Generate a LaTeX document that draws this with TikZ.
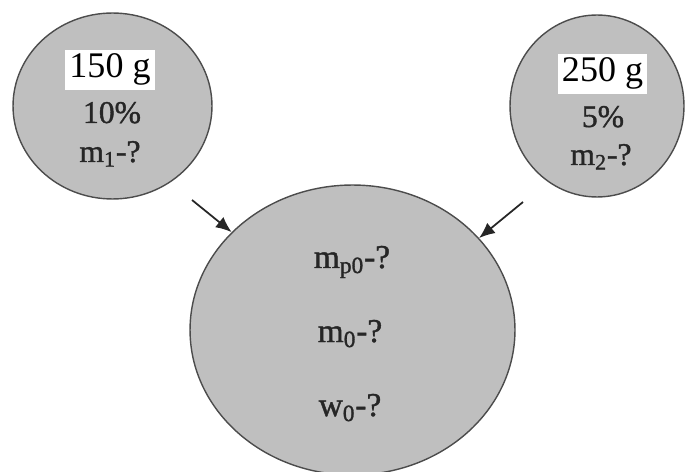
\documentclass[tikz,border=0pt]{standalone}
\usepackage{fontspec}
\setmainfont{Liberation Serif}
\newfontfamily\heavyfont[FakeBold=1.2]{Liberation Serif}
\usetikzlibrary{arrows.meta,positioning,shapes.geometric}

\begin{document}
\begin{tikzpicture}[
    x=0.02cm, y=-0.02cm,
    circ/.style={ellipse, draw=black!70, line width=0.8pt, fill=black!25, inner sep=0pt},
    mass/.style={fill=white, inner sep=2.5pt, anchor=base, font=\fontsize{20.5}{24}\selectfont},
    lbl/.style={inner sep=0pt, anchor=base, text=black!85, font=\heavyfont\fontsize{18}{22}\selectfont},
    qty/.style={inner sep=0pt, anchor=base, text=black!85, font=\heavyfont\fontsize{19}{23}\selectfont},
    arrow/.style={-{Latex[length=9pt,width=7.5pt]}, line width=1pt, black!85},
]
\clip (0,0) rectangle (685,472);

% Solutions
\node[circ, minimum width=3.98cm, minimum height=3.72cm] (sol1) at (112.5,106) {};
\node[circ, minimum width=3.48cm, minimum height=3.64cm] (sol2) at (597,106) {};

% Mixture
\node[circ, minimum width=6.5cm, minimum height=5.8cm] (mix) at (352.5,330) {};

% Labels of solution 1
\node[mass] (m150) at (110,78) {150 g};
\node[lbl] (w1) at (112,123) {10\%};
\node[lbl] (q1) at (110,162) {m\textsubscript{1}-?};

% Labels of solution 2
\node[mass] (m250) at (602.5,82) {250 g};
\node[lbl] (w2) at (603,127) {5\%};
\node[lbl] (q2) at (601,165) {m\textsubscript{2}-?};

% Labels of mixture
\node[qty] (qp0) at (352,268) {m\textsubscript{p0}-?};
\node[qty] (q0) at (350,342) {m\textsubscript{0}-?};
\node[qty] (w0) at (350,416) {w\textsubscript{0}-?};

% Arrows
\coordinate (from1) at (192,200);
\coordinate (from2) at (523,202);
\draw[arrow] (from1) -- (mix.141);
\draw[arrow] (from2) -- (mix.36);

\end{tikzpicture}
\end{document}
